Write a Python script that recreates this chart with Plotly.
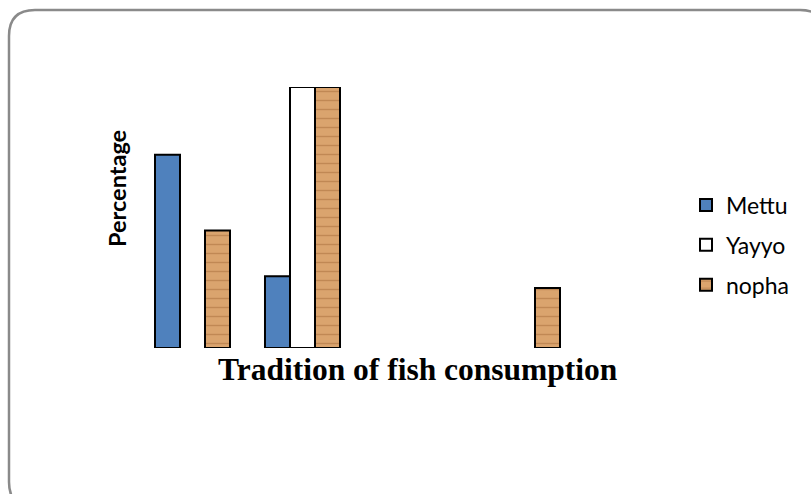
import plotly.graph_objects as go

W, H = 811, 494

# Five response categories; only the bars with values are drawn
categories = ["Cat 1", "Cat 2", "Cat 3", "Cat 4", "Cat 5"]
mettu = [74, 27.5, None, None, None]
yayyo = [None, 100, None, None, None]
nopha = [45, 100, None, 23, None]


def px(x):
    return x / W


def py(y):
    return 1 - y / H


fig = go.Figure()
fig.add_bar(x=categories, y=mettu, name="Mettu",
            marker=dict(color="#4F81BD", line=dict(color="black", width=2)))
fig.add_bar(x=categories, y=yayyo, name="Yayyo",
            marker=dict(color="white", line=dict(color="black", width=2)))
fig.add_bar(x=categories, y=nopha, name="nopha",
            marker=dict(color="#DAA46E", line=dict(color="black", width=2),
                        pattern=dict(shape="-", fgcolor="#A56B3A", fgopacity=0.5,
                                     size=9, solidity=0.16)))

# rounded outer frame, running off the right and bottom edges
x0, y0, x1, y1, r = 9, 10, 826, 508, 26
path = (f"M {px(x0)},{py(y0 + r)} Q {px(x0)},{py(y0)} {px(x0 + r)},{py(y0)} "
        f"L {px(x1 - r)},{py(y0)} Q {px(x1)},{py(y0)} {px(x1)},{py(y0 + r)} "
        f"L {px(x1)},{py(y1 - r)} Q {px(x1)},{py(y1)} {px(x1 - r)},{py(y1)} "
        f"L {px(x0 + r)},{py(y1)} Q {px(x0)},{py(y1)} {px(x0)},{py(y1 - r)} Z")

fig.update_layout(
    width=W, height=H,
    margin=dict(l=0, r=0, t=0, b=0),
    paper_bgcolor="white", plot_bgcolor="rgba(0,0,0,0)",
    barmode="group", bargap=0.318, bargroupgap=0,
    xaxis=dict(domain=[px(137.5), px(687.5)], showticklabels=False,
               showgrid=False, zeroline=False, showline=False, ticks=""),
    yaxis=dict(domain=[py(348), py(87)], range=[0, 100], showticklabels=False,
               showgrid=False, zeroline=False, showline=False, ticks=""),
    shapes=[dict(type="path", path=path, xref="paper", yref="paper",
                 line=dict(color="#8A8A8A", width=2.5), layer="below")],
    legend=dict(x=px(686), y=py(245), xanchor="left", yanchor="middle",
                font=dict(family="Lato", size=23, color="black"),
                tracegroupgap=7, itemwidth=30, bgcolor="rgba(0,0,0,0)"),
    annotations=[
        dict(text="<b>Tradition of fish consumption</b>", x=px(418), y=py(369),
             xref="paper", yref="paper", showarrow=False,
             xanchor="center", yanchor="middle",
             font=dict(family="Liberation Serif", size=31.5, color="black")),
        dict(text="<b>Percentage</b>", x=px(117), y=py(188),
             xref="paper", yref="paper", showarrow=False, textangle=-90,
             xanchor="center", yanchor="middle",
             font=dict(family="Lato", size=23.5, color="black")),
    ],
)
for i, tr in enumerate(fig.data):
    tr.legendgroup = f"g{i}"

fig.write_html("out.html")
